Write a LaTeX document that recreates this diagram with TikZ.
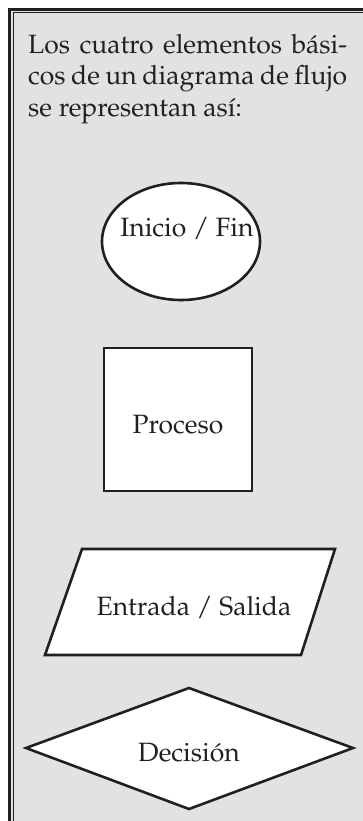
\documentclass[tikz,border=0pt]{standalone}
\usepackage[T1]{fontenc}
\usepackage{mathpazo}
\definecolor{panelgray}{HTML}{E1E2E4}
\definecolor{ink}{HTML}{231F20}
\begin{document}
\begin{tikzpicture}[x=1pt,y=-1pt,
  shapeline/.style={draw=ink,line width=2.6pt,fill=white,line join=miter},
  labeltext/.style={inner sep=0pt,text=ink,font=\fontsize{26.5}{31.7}\selectfont},
  framethick/.style={draw=ink,line width=3pt},
  framethin/.style={draw=ink,line width=1.3pt}]
\useasboundingbox (0,0) rectangle (363,821);
\fill[white] (0,0) rectangle (363,821);
\fill[panelgray] (8,8) rectangle (363,821);
\draw[framethick] (9.5,821) -- (9.5,9.3) -- (363,9.3);
\draw[framethin] (13.7,821) -- (13.7,12.8) -- (363,12.8);
% intro text
\node[labeltext,anchor=base west,text width=319pt,align=justify] (intro) at (28,53.3)
  {Los cuatro elementos b\'asi-\linebreak cos de un diagrama de flujo\linebreak se representan as\'i:};
% ellipse
\draw[shapeline] (181,241.5) ellipse [x radius=79,y radius=58.5];
\node[labeltext,anchor=base] (inicio) at (187,236.7) {Inicio / Fin};
% rectangle
\draw[shapeline] (104,348) rectangle (252,491);
\node[labeltext,anchor=base] (proceso) at (178,433) {Proceso};
% parallelogram
\draw[shapeline] (82,549) -- (335,549) -- (301,655) -- (45,655) -- cycle;
\node[labeltext,anchor=base] (entrada) at (194,615) {Entrada / Salida};
% diamond
\draw[shapeline] (189,688) -- (353,748) -- (189,809) -- (26,748) -- cycle;
\node[labeltext,anchor=base] (decision) at (189,761.5) {Decisi\'on};
\end{tikzpicture}
\end{document}
